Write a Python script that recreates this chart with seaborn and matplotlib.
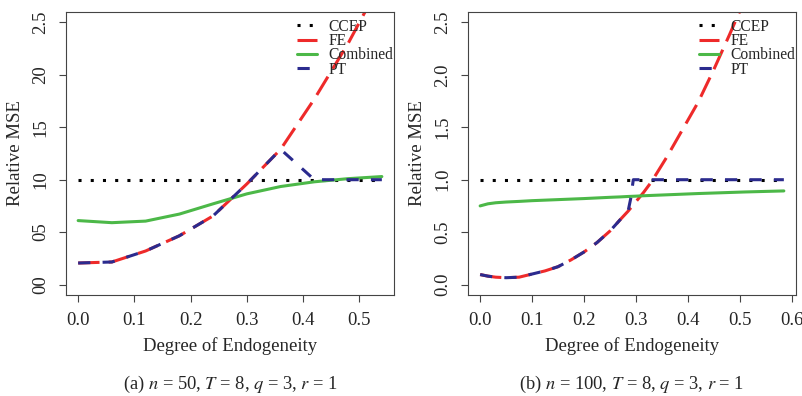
import numpy as np
import pandas as pd
import matplotlib
matplotlib.use("Agg")
import matplotlib.pyplot as plt
import seaborn as sns

# ---------------- data ----------------
# Panel (a): n = 50
x_a = [0.0, 0.06, 0.12, 0.18, 0.24, 0.30, 0.36, 0.42, 0.48, 0.54]
ccep_a = [1.0, 1.0, 1.0, 1.0, 1.0, 1.0, 1.0, 1.0, 1.0, 1.0]
fe_a = [0.205, 0.215, 0.32, 0.465, 0.655, 0.96, 1.29, 1.77, 2.30, 2.90]
comb_a = [0.61, 0.59, 0.605, 0.672, 0.77, 0.865, 0.935, 0.98, 1.01, 1.03]
pt_a = [0.205, 0.215, 0.32, 0.465, 0.655, 0.96, 1.29, 1.0, 1.0, 1.0]

# Panel (b): n = 100
x_b = [0.0, 0.015, 0.03, 0.05, 0.075, 0.1, 0.125, 0.15, 0.175, 0.2, 0.225, 0.25,
       0.27, 0.285, 0.29, 0.295, 0.3, 0.315, 0.33, 0.36, 0.39, 0.42, 0.45, 0.48,
       0.51, 0.54, 0.585]
ccep_b = [1.0] * 27
fe_b = [0.095, 0.08, 0.07, 0.065, 0.07, 0.10, 0.13, 0.17, 0.235, 0.31, 0.40, 0.51,
        0.62, 0.70, 0.73, 0.76, 0.79, 0.88, 0.98, 1.22, 1.48, 1.74, 2.05, 2.38,
        2.72, 3.06, 3.60]
comb_b = [0.75, 0.77, 0.78, 0.787, 0.793, 0.80, 0.805, 0.81, 0.815, 0.82, 0.826, 0.832,
          0.836, 0.84, 0.841, 0.842, 0.843, 0.847, 0.85, 0.856, 0.862, 0.868, 0.873,
          0.878, 0.883, 0.887, 0.893]
pt_b = [0.095, 0.08, 0.07, 0.065, 0.07, 0.10, 0.13, 0.17, 0.235, 0.31, 0.40, 0.51,
        0.62, 0.70, 0.82, 1.0, 1.0, 1.0, 1.0, 1.0, 1.0, 1.0, 1.0, 1.0,
        1.0, 1.0, 1.0]

yticks = [0.0, 0.5, 1.0, 1.5, 2.0, 2.5]
ylabels_a = ["00", "05", "10", "15", "20", "2.5"]
ylabels_b = ["0.0", "0.5", "1.0", "1.5", "2.0", "2.5"]
xticks_a = [0.0, 0.1, 0.2, 0.3, 0.4, 0.5]
xticks_b = [0.0, 0.1, 0.2, 0.3, 0.4, 0.5, 0.6]
captions = ["(a) $n$ = 50, $T$ = 8, $q$ = 3, $r$ = 1",
            "(b) $n$ = 100, $T$ = 8, $q$ = 3, $r$ = 1"]

# ---------------- style ----------------
sns.set_style("white")
plt.rcParams["font.family"] = ["Liberation Serif", "DejaVu Serif"]
plt.rcParams["mathtext.fontset"] = "stix"

RED = "#ee2a2a"
GREEN = "#4cb848"
BLUE = "#2b2b8e"
EDGE = "#444444"
LW = 2.2

fig = plt.figure(figsize=(8.03, 3.96), dpi=100)
W, H = 803, 396


def add_ax(left_px, right_px, top_px, bottom_px):
    return fig.add_axes([left_px / W, 1 - bottom_px / H,
                         (right_px - left_px) / W, (bottom_px - top_px) / H])


panels = [
    (add_ax(66, 394, 12, 295), x_a, ccep_a, fe_a, comb_a, pt_a, xticks_a, ylabels_a, (-0.0216, 0.5616)),
    (add_ax(468, 796, 12, 295), x_b, ccep_b, fe_b, comb_b, pt_b, xticks_b, ylabels_b, (-0.0234, 0.6084)),
]

for i, (ax, x, cc, fe, cb, pt, xt, yl, xlim) in enumerate(panels):
    df = pd.DataFrame({"x": x, "CCEP": cc, "FE": fe, "Combined": cb, "PT": pt})
    sns.lineplot(data=df, x="x", y="CCEP", ax=ax, color="black", lw=LW,
                 linestyle=(0, (1, 3)), label="CCEP", dash_capstyle="butt")
    sns.lineplot(data=df, x="x", y="FE", ax=ax, color=RED, lw=LW,
                 linestyle=(0, (7, 3)), label="FE", dash_capstyle="butt")
    sns.lineplot(data=df, x="x", y="Combined", ax=ax, color=GREEN, lw=LW,
                 linestyle="-", label="Combined")
    sns.lineplot(data=df, x="x", y="PT", ax=ax, color=BLUE, lw=LW,
                 linestyle=(0, (4, 4)), label="PT", dash_capstyle="butt")

    ax.set_xlim(*xlim)
    ax.set_ylim(-0.1, 2.6)
    ax.set_xticks(xt)
    ax.set_xticklabels([f"{v:.1f}" for v in xt])
    ax.set_yticks(yticks)
    ax.set_yticklabels(yl, rotation=90, va="center")
    ax.tick_params(direction="out", length=5, width=0.8, color=EDGE,
                   labelsize=13.5, pad=7, left=True, bottom=True)
    for sp in ax.spines.values():
        sp.set_visible(True)
        sp.set_color(EDGE)
        sp.set_linewidth(0.8)

    ax.set_xlabel("Degree of Endogeneity", fontsize=13.5)
    ax.set_ylabel("Relative MSE", fontsize=13.5)
    ax.xaxis.set_label_coords(0.5, -50.7 / 283)
    ax.xaxis.label.set_va("center")
    ax.yaxis.set_label_coords(-50 / 328, 0.5)
    ax.yaxis.label.set_va("center")

    leg = ax.legend(loc="upper left", bbox_to_anchor=(0.683, 1.0), frameon=False,
                    fontsize=11.2, handlelength=1.3, handletextpad=0.75,
                    labelspacing=-0.1, borderpad=0.42, borderaxespad=0.0)

    cx = ((66 + 394) / 2 if i == 0 else (468 + 796) / 2) / W
    fig.text(cx, 1 - 384 / H, captions[i], ha="center", va="center", fontsize=13.3)

fig.savefig("out.png", dpi=100)
